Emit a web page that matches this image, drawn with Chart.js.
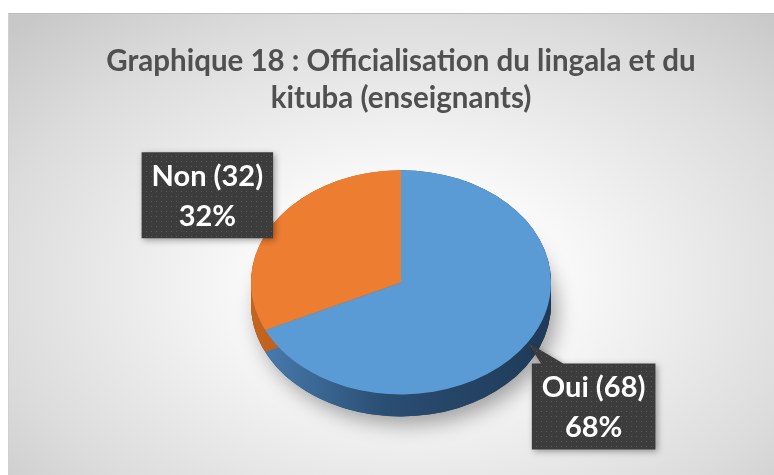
<!DOCTYPE html>
<html>
<head>
<meta charset="utf-8">
<script src="https://cdn.jsdelivr.net/npm/chart.js@4"></script>
<style>
body { margin: 0; background: #fff; }
#wrap {
    position: absolute; left: 8px; top: 13px; width: 766px; height: 462px;
    border-top: 1px solid #bdbdbd; border-left: 1px solid #d0d0d0;
    background: radial-gradient(ellipse 72% 78% at 52% 58%, #ffffff 0%, #f8f8f8 30%, #dcdcdc 75%, #c8c8c8 100%);
}
</style>
</head>
<body>
<div id="wrap"><canvas id="c" width="765" height="461"></canvas></div>
<script>
// Data
const categories = ['Oui', 'Non'];
const counts = [68, 32];
const titleLines = ['Graphique 18 : Officialisation du lingala et du', 'kituba (enseignants)'];

// Styles
const sliceColors = ['#5B9BD5', '#ED7D31'];
const sideColors = [['#4a80b3', '#2a4d72', '#1f3a58'], ['#c4651f', '#a9551a', '#8e4615']];
const tilt = 0.747;
const depth = 22;
const labelOffsets = [[66, 64], [-67, -27]];
const FONT = 'Lato, "Open Sans", sans-serif';

// dotted pattern for callouts
function makePattern(ctx) {
    const p = document.createElement('canvas');
    p.width = 5; p.height = 5;
    const pc = p.getContext('2d');
    pc.fillStyle = '#3c3c3c';
    pc.fillRect(0, 0, 5, 5);
    pc.fillStyle = '#5a5a5a';
    pc.fillRect(2, 2, 1, 1);
    return ctx.createPattern(p, 'repeat');
}

// 3D pie: tilt the top face and draw a side wall under it
const pie3d = {
    id: 'pie3d',
    beforeDatasetsDraw(chart) {
        const ctx = chart.ctx;
        const arcs = chart.getDatasetMeta(0).data;
        const cx = arcs[0].x, cy = arcs[0].y, r = arcs[0].outerRadius;

        ctx.save();
        ctx.shadowColor = 'rgba(0,0,0,0.35)';
        ctx.shadowBlur = 20;
        ctx.shadowOffsetX = 6;
        ctx.shadowOffsetY = 8;
        ctx.fillStyle = '#23415f';
        ctx.beginPath();
        ctx.ellipse(cx, cy + depth, r, r * tilt, 0, 0, Math.PI * 2);
        ctx.fill();
        ctx.restore();

        arcs.forEach((arc, i) => {
            const g = ctx.createLinearGradient(cx - r, 0, cx + r, 0);
            g.addColorStop(0, sideColors[i][0]);
            g.addColorStop(0.45, sideColors[i][1]);
            g.addColorStop(1, sideColors[i][2]);
            ctx.fillStyle = g;
            for (let d = depth; d >= 0; d--) {
                ctx.beginPath();
                ctx.moveTo(cx, cy + d);
                ctx.ellipse(cx, cy + d, r, r * tilt, 0, arc.startAngle, arc.endAngle);
                ctx.closePath();
                ctx.fill();
            }
        });

        ctx.save();
        ctx.translate(cx, cy);
        ctx.scale(1, tilt);
        ctx.translate(-cx, -cy);
    },
    afterDatasetsDraw(chart) {
        const ctx = chart.ctx;
        ctx.restore();

        const arcs = chart.getDatasetMeta(0).data;
        const total = counts.reduce((a, b) => a + b, 0);
        const pattern = makePattern(ctx);
        ctx.font = 'bold 29px ' + FONT;

        arcs.forEach((arc, i) => {
            const mid = (arc.startAngle + arc.endAngle) / 2;
            const tx = arc.x + arc.outerRadius * Math.cos(mid);
            const ty = arc.y + arc.outerRadius * tilt * Math.sin(mid);
            const bx = tx + labelOffsets[i][0];
            const by = ty + labelOffsets[i][1];
            const line1 = categories[i] + ' (' + counts[i] + ')';
            const line2 = Math.round(counts[i] / total * 100) + '%';
            const w = Math.max(ctx.measureText(line1).width, ctx.measureText(line2).width) + 20;
            const h = 86;

            // callout wedge + box
            const dx = tx - bx, dy = ty - by;
            const len = Math.hypot(dx, dy);
            const px = -dy / len * 22, py = dx / len * 22;
            ctx.save();
            ctx.shadowColor = 'rgba(0,0,0,0.35)';
            ctx.shadowBlur = 6;
            ctx.shadowOffsetX = 2;
            ctx.shadowOffsetY = 2;
            ctx.fillStyle = pattern;
            ctx.beginPath();
            ctx.rect(bx - w / 2, by - h / 2, w, h);
            ctx.moveTo(tx, ty);
            ctx.lineTo(bx + px, by + py);
            ctx.lineTo(bx - px, by - py);
            ctx.closePath();
            ctx.fill();
            ctx.restore();

            ctx.fillStyle = '#ffffff';
            ctx.textAlign = 'center';
            ctx.textBaseline = 'middle';
            ctx.fillText(line1, bx, by - 19);
            ctx.fillText(line2, bx, by + 21);
        });
    }
};

new Chart(document.getElementById('c'), {
    type: 'pie',
    data: {
        labels: categories,
        datasets: [{
            data: counts,
            backgroundColor: sliceColors,
            borderWidth: 0,
            radius: 150
        }]
    },
    options: {
        responsive: false,
        animation: false,
        events: [],
        layout: { padding: { left: 19, right: 0, top: 0, bottom: 37 } },
        plugins: {
            legend: { display: false },
            tooltip: { enabled: false },
            title: {
                display: true,
                text: titleLines,
                color: '#505050',
                font: { family: FONT, size: 29.5, weight: 'bold', lineHeight: 1.25 },
                padding: { top: 29, bottom: 10 }
            }
        }
    },
    plugins: [pie3d]
});
</script>
</body>
</html>
